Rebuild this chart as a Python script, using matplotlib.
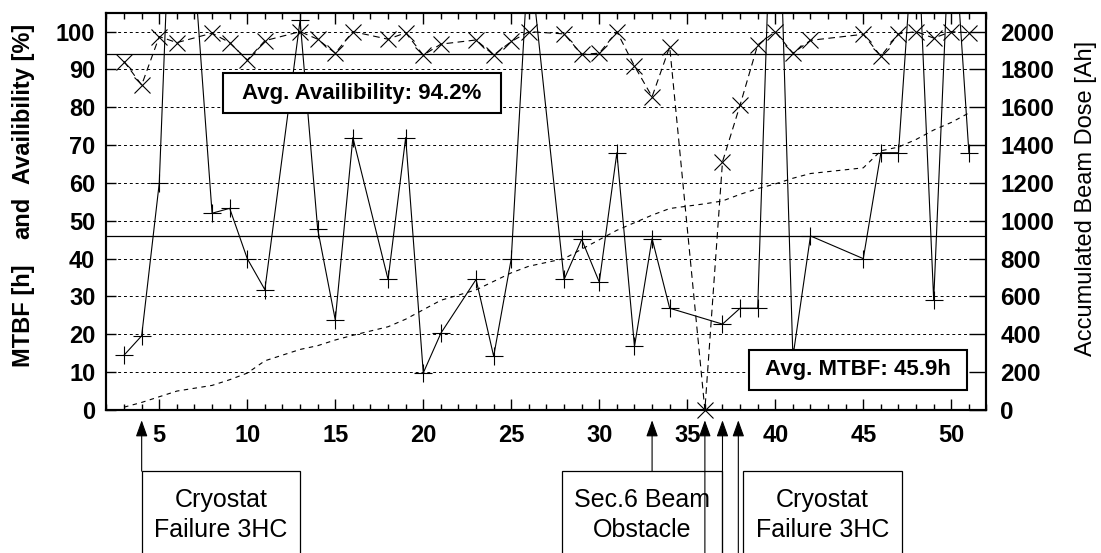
import matplotlib
matplotlib.use('Agg')
import matplotlib.pyplot as plt
import matplotlib.transforms as mtransforms
from matplotlib.patches import Rectangle
from matplotlib.ticker import MultipleLocator

plt.rcParams['font.family'] = ['Liberation Sans', 'DejaVu Sans']
plt.rcParams['font.weight'] = 'bold'

# run numbers with availability / dose values
avail_x = [3, 4, 5, 6, 8, 9, 10, 11, 13, 14, 15, 16, 18, 19, 20, 21, 23, 24, 25, 26,
           28, 29, 30, 31, 32, 33, 34, 36, 37, 38, 39, 40, 41, 42, 45, 46, 47, 48, 49, 50, 51]
availability = [92.1, 85.9, 98.7, 97.1, 99.6, 97.1, 92.5, 97.6, 100, 98, 94.3, 100, 98, 99.7,
                93.8, 96.7, 97.8, 93.8, 97.4, 100, 99.4, 94, 94.3, 100, 90.9, 82.8, 96, 0,
                65.6, 80.6, 96.5, 100, 94.3, 97.7, 99.3, 93.5, 99.4, 100, 98.3, 100, 99.7]
dose = [15, 40, 70, 100, 130, 160, 195, 260, 320, 340, 370, 395, 440, 480, 530, 580, 635,
        680, 725, 760, 800, 850, 900, 950, 990, 1030, 1065, 1090, 1105, 1140, 1170, 1195,
        1225, 1250, 1280, 1370, 1390, 1430, 1480, 1520, 1570]

# MTBF per run (values above 105 run off the top of the plot)
mtbf_x = [3, 4, 5, 6, 8, 9, 10, 11, 13, 14, 15, 16, 18, 19, 20, 21, 23, 24, 25, 26,
          28, 29, 30, 31, 32, 33, 34, 37, 38, 39, 40, 41, 42, 45, 46, 47, 48, 49, 50, 51]
mtbf = [14.5, 19.6, 60, 180, 52, 53.3, 40, 31.8, 103, 47.8, 23.8, 72, 34.5, 72, 9.8, 20.3,
        34.5, 14.2, 40, 122, 34.5, 45.1, 33.8, 68, 16.8, 45.3, 26.9, 22.7, 26.9, 26.9, 170,
        14, 46, 40, 68, 68, 136, 29, 138, 68]

avg_avail = 94.2
avg_mtbf = 45.9

fig = plt.figure(figsize=(11.01, 5.53), dpi=100)
ax = fig.add_axes([0.0967, 0.2586, 0.7993, 0.7184])

for v in range(10, 101, 10):
    ax.axhline(v, color='black', lw=0.7, ls=(0, (3, 3)), zorder=1)
ax.axhline(avg_avail, color='black', lw=0.9, zorder=1)
ax.axhline(avg_mtbf, color='black', lw=0.9, zorder=1)

ax.plot(mtbf_x, mtbf, color='black', lw=0.8, marker='+', ms=13, mew=0.8, zorder=3)
ax.plot(avail_x, availability, color='black', lw=0.8, ls=(0, (6, 4)), marker='x',
        ms=11, mew=0.8, clip_on=False, zorder=3)

ax.set_xlim(2, 52)
ax.set_ylim(0, 105)
ax.xaxis.set_major_locator(MultipleLocator(5))
ax.xaxis.set_minor_locator(MultipleLocator(1))
ax.set_xticks([5, 10, 15, 20, 25, 30, 35, 40, 45, 50])
ax.set_yticks(range(0, 101, 10))
ax.tick_params(axis='x', which='major', direction='in', top=True, length=8, width=1,
               labelsize=17, pad=10)
ax.tick_params(axis='x', which='minor', direction='in', top=True, length=4, width=1)
ax.tick_params(axis='y', direction='in', left=True, right=False, length=7, width=1,
               labelsize=17, pad=8)
for s in ax.spines.values():
    s.set_linewidth(1.5)

ax2 = ax.twinx()
ax2.plot(avail_x, dose, color='black', lw=0.8, ls=(0, (4, 4)))
ax2.set_ylim(0, 2100)
ax2.set_yticks(range(0, 2001, 200))
ax2.tick_params(axis='y', direction='in', length=12, width=1, labelsize=17.5, pad=10)
for s in ax2.spines.values():
    s.set_linewidth(1.5)

# average boxes
ax2.add_patch(Rectangle((8.6, 78.4 * 20), 15.8, 10.6 * 20, fc='white', ec='black', lw=1.5, zorder=5))
ax2.text(16.5, 83.7 * 20, f'Avg. Availibility: {avg_avail}%', ha='center', va='center',
         fontsize=16, zorder=6)
ax.add_patch(Rectangle((38.5, 5.3), 12.4, 10.6, fc='white', ec='black', lw=1.5, zorder=5))
ax.text(44.7, 10.6, f'Avg. MTBF: {avg_mtbf}h', ha='center', va='center', fontsize=16, zorder=6)

# axis labels
fig.text(0.0209, 0.812, 'Availibility [%]', rotation=90, ha='center', va='center', fontsize=17)
fig.text(0.0209, 0.606, 'and', rotation=90, ha='center', va='center', fontsize=17)
fig.text(0.0209, 0.430, 'MTBF [h]', rotation=90, ha='center', va='center', fontsize=17)
fig.text(0.986, 0.642, 'Accumulated Beam Dose [Ah]', rotation=90, ha='center', va='center',
         fontsize=17, fontweight='normal')

# event annotations below the axis
trans = mtransforms.blended_transform_factory(ax.transData, fig.transFigure)
tip, box_top = 0.240, 0.148
aprops = dict(arrowstyle='-|>,head_length=0.5,head_width=0.18', color='black', lw=0.8,
              shrinkA=0, shrinkB=0, mutation_scale=20)
for xa, y0 in [(4, box_top), (33, box_top), (36, -0.05), (37, -0.05), (37.9, -0.05)]:
    ax.annotate('', xy=(xa, tip), xycoords=trans, xytext=(xa, y0), textcoords=trans,
                arrowprops=aprops, annotation_clip=False)

for x0, x1, label in [(4, 13, 'Cryostat\nFailure 3HC'),
                      (27.9, 37, 'Sec.6 Beam\nObstacle'),
                      (38.15, 47.2, 'Cryostat\nFailure 3HC')]:
    fig.add_artist(Rectangle((x0, -0.1), x1 - x0, box_top + 0.1, transform=trans, fill=False,
                             ec='black', lw=0.9, clip_on=False))
    ax.text((x0 + x1) / 2, 0.069, label, transform=trans, ha='center', va='center',
            fontsize=18, fontweight='normal', linespacing=1.35, clip_on=False)

fig.savefig('out.png', dpi=100)
